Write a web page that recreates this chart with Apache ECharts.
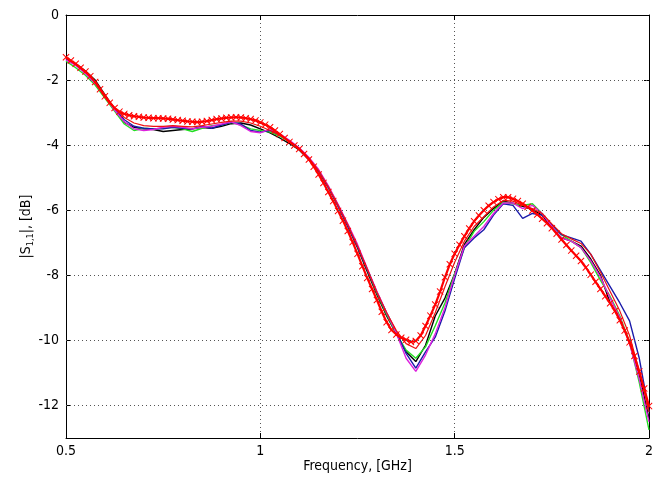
<!DOCTYPE html>
<html>
<head>
<meta charset="utf-8">
<script src="https://cdn.jsdelivr.net/npm/echarts@6/dist/echarts.min.js"></script>
<style>html,body{margin:0;padding:0;background:#fff;overflow:hidden;}#c{width:665px;height:479px;}</style>
</head>
<body>
<div id="c"></div>
<script>
// Sampling grids (GHz)
const coarseStart = 0.5, coarseStep = 0.025;
const fineStart = 0.5, fineStep = 0.0125;

// |S11| [dB] measured curves, sampled every 0.025 GHz from 0.5 to 2.0
const blackS11 = [-1.35,-1.50,-1.72,-2.00,-2.45,-2.90,-3.30,-3.45,-3.50,-3.52,-3.58,-3.55,-3.52,-3.50,-3.46,-3.48,-3.42,-3.34,-3.32,-3.38,
  -3.50,-3.62,-3.78,-3.95,-4.15,-4.45,-4.80,-5.30,-5.85,-6.48,-7.15,-7.88,-8.60,-9.25,-9.80,-10.35,-10.65,-10.15,-9.25,-8.70,
  -7.95,-7.05,-6.60,-6.22,-5.95,-5.72,-5.78,-5.88,-5.98,-6.15,-6.55,-6.85,-6.95,-7.10,-7.50,-8.00,-8.85,-9.35,-10.05,-11.05,-12.40];
const greenS11 = [-1.42,-1.62,-1.85,-2.15,-2.55,-2.95,-3.35,-3.55,-3.48,-3.50,-3.48,-3.45,-3.50,-3.58,-3.48,-3.40,-3.38,-3.30,-3.38,-3.50,
  -3.55,-3.60,-3.72,-3.90,-4.12,-4.40,-4.78,-5.28,-5.85,-6.45,-7.10,-7.82,-8.55,-9.20,-9.80,-10.30,-10.55,-10.20,-9.55,-8.85,
  -7.95,-7.15,-6.65,-6.35,-6.00,-5.75,-5.80,-5.85,-5.80,-6.10,-6.45,-6.75,-6.95,-7.15,-7.60,-8.15,-8.65,-9.25,-10.05,-11.30,-12.75];
const blueS11 = [-1.33,-1.52,-1.78,-2.08,-2.48,-2.88,-3.22,-3.42,-3.48,-3.50,-3.50,-3.45,-3.48,-3.50,-3.42,-3.48,-3.38,-3.30,-3.35,-3.55,
  -3.60,-3.55,-3.68,-3.88,-4.10,-4.40,-4.80,-5.30,-5.88,-6.50,-7.12,-7.82,-8.52,-9.15,-9.75,-10.40,-10.85,-10.35,-9.90,-9.10,
  -8.10,-7.15,-6.85,-6.60,-6.15,-5.80,-5.85,-6.25,-6.10,-6.15,-6.45,-6.75,-6.85,-6.95,-7.35,-7.85,-8.35,-8.85,-9.40,-10.55,-12.20];
const magentaS11 = [-1.38,-1.55,-1.80,-2.10,-2.50,-2.92,-3.28,-3.50,-3.55,-3.52,-3.45,-3.42,-3.45,-3.50,-3.45,-3.42,-3.35,-3.28,-3.40,-3.58,
  -3.62,-3.50,-3.65,-3.85,-4.08,-4.38,-4.75,-5.25,-5.82,-6.42,-7.05,-7.78,-8.50,-9.15,-9.78,-10.55,-10.95,-10.45,-9.80,-9.00,
  -8.00,-7.10,-6.80,-6.50,-6.10,-5.78,-5.78,-5.95,-5.85,-6.10,-6.50,-6.85,-6.95,-7.15,-7.55,-8.05,-8.70,-9.30,-10.10,-11.20,-12.50];
const redS11 = [-1.32,-1.52,-1.75,-2.05,-2.45,-2.85,-3.15,-3.32,-3.40,-3.42,-3.42,-3.40,-3.42,-3.44,-3.40,-3.35,-3.30,-3.26,-3.26,-3.32,
  -3.42,-3.55,-3.70,-3.88,-4.10,-4.40,-4.78,-5.28,-5.85,-6.45,-7.10,-7.80,-8.52,-9.15,-9.70,-10.10,-10.25,-9.85,-9.15,-8.35,
  -7.60,-6.95,-6.50,-6.20,-5.90,-5.70,-5.72,-5.85,-5.95,-6.10,-6.42,-6.72,-6.88,-7.02,-7.35,-7.90,-8.50,-9.10,-9.85,-10.95,-12.20];

// Smooth (simulated) curve with markers, sampled every 0.0125 GHz from 0.5 to 2.0
const simS11 = [-1.30,-1.40,-1.50,-1.62,-1.74,-1.88,-2.06,-2.28,-2.50,-2.70,
  -2.86,-2.97,-3.04,-3.08,-3.11,-3.13,-3.15,-3.16,-3.17,-3.17,
  -3.18,-3.19,-3.21,-3.23,-3.25,-3.27,-3.28,-3.29,-3.28,-3.26,
  -3.23,-3.20,-3.18,-3.16,-3.15,-3.14,-3.15,-3.17,-3.20,-3.24,
  -3.30,-3.37,-3.45,-3.55,-3.66,-3.78,-3.90,-4.01,-4.12,-4.27,
  -4.44,-4.66,-4.90,-5.16,-5.44,-5.72,-6.02,-6.32,-6.64,-6.98,
  -7.34,-7.72,-8.08,-8.42,-8.76,-9.12,-9.44,-9.68,-9.82,-9.92,
  -9.98,-10.05,-10.02,-9.85,-9.56,-9.24,-8.90,-8.50,-8.06,-7.66,
  -7.34,-7.06,-6.80,-6.56,-6.34,-6.16,-6.00,-5.86,-5.75,-5.66,
  -5.60,-5.60,-5.65,-5.72,-5.80,-5.90,-6.01,-6.13,-6.26,-6.40,
  -6.55,-6.72,-6.90,-7.07,-7.24,-7.40,-7.56,-7.76,-7.98,-8.20,
  -8.42,-8.64,-8.86,-9.10,-9.38,-9.70,-10.06,-10.48,-10.96,-11.48,
  -12.02];

const xTicks = [0.5, 1, 1.5, 2];
const yTicks = [0, -2, -4, -6, -8, -10, -12];

function pairs(start, step, vals) {
  return vals.map((v, i) => [+(start + i * step).toFixed(4), v]);
}

const chart = echarts.init(document.getElementById('c'), null, {renderer: 'canvas'});
const FONT = '"Liberation Sans Narrow", "Arial Narrow", "DejaVu Sans Condensed", "Liberation Sans", Arial, sans-serif';
const FS = 14;
const crossPath = 'path://M0,1 L1,0 L5,4 L9,0 L10,1 L6,5 L10,9 L9,10 L5,6 L1,10 L0,9 L4,5 Z';

function lineSeries(name, color, vals, width) {
  return {
    name, type: 'line', data: pairs(coarseStart, coarseStep, vals),
    showSymbol: false, symbol: 'none', smooth: false,
    lineStyle: {color, width: width || 1.4}, itemStyle: {color},
    animation: false, z: 2
  };
}

const boxAxisCommon = {
  axisLine: {show: true, lineStyle: {color: '#000', width: 1}},
  axisLabel: {show: false}, splitLine: {show: false}
};

chart.setOption({
  animation: false,
  backgroundColor: '#fff',
  grid: {left: 66, right: 16, top: 15, bottom: 41, show: false},
  xAxis: [{
    type: 'value', min: 0.5, max: 2, interval: 0.5,
    name: 'Frequency, [GHz]', nameLocation: 'middle', nameGap: 21, nameMoveOverlap: false,
    nameTextStyle: {color: '#000', fontSize: FS, fontFamily: FONT},
    axisLine: {show: true, onZero: false, lineStyle: {color: '#000', width: 1}},
    axisTick: {show: true, inside: true, length: 5, lineStyle: {color: '#000'}},
    axisLabel: {color: '#000', fontSize: FS, fontFamily: FONT, margin: 6, formatter: v => String(v)},
    splitLine: {show: true, lineStyle: {color: '#555', type: [1, 3], width: 1}}
  }, Object.assign({
    type: 'value', min: 0.5, max: 2, interval: 0.5, position: 'top',
    axisTick: {show: true, inside: true, length: 5, lineStyle: {color: '#000'}}
  }, boxAxisCommon)],
  yAxis: [{
    type: 'value', min: -13, max: 0, interval: 1,
    name: '{n||S}{s|1,1}{n||, [dB]}', nameLocation: 'middle', nameGap: 31, nameRotate: 90, nameMoveOverlap: false,
    nameTextStyle: {color: '#000', fontSize: FS, fontFamily: FONT,
      rich: {n: {fontSize: FS, fontFamily: FONT, color: '#000'}, s: {fontSize: 9, fontFamily: FONT, color: '#000', verticalAlign: 'bottom', padding: [8, 0, 0, 0]}}},
    axisLine: {show: true, onZero: false, lineStyle: {color: '#000', width: 1}},
    axisTick: {show: true, inside: true, length: 5, customValues: yTicks, lineStyle: {color: '#000'}},
    axisLabel: {color: '#000', fontSize: FS, fontFamily: FONT, margin: 7, customValues: yTicks, formatter: v => String(v)},
    splitLine: {show: false}
  }, Object.assign({
    type: 'value', min: -13, max: 0, interval: 1, position: 'right',
    axisTick: {show: true, inside: true, length: 5, customValues: yTicks, lineStyle: {color: '#000'}}
  }, boxAxisCommon)],
  series: [
    lineSeries('black', '#000000', blackS11),
    lineSeries('green', '#22dd22', greenS11),
    lineSeries('blue', '#1a1aaa', blueS11),
    lineSeries('magenta', '#dd22dd', magentaS11),
    Object.assign(lineSeries('red', '#ee1111', redS11, 1.2), {
      markLine: {
        silent: true, symbol: 'none', label: {show: false},
        lineStyle: {color: '#555', type: [1, 3], width: 1},
        data: yTicks.filter(v => v > -13 && v < 0).map(v => ({yAxis: v}))
      }
    }),
    {
      name: 'sim', type: 'line', data: pairs(fineStart, fineStep, simS11),
      symbol: crossPath, symbolSize: 7, showSymbol: true, showAllSymbol: true,
      lineStyle: {color: '#ff0000', width: 2.2}, itemStyle: {color: '#ff0000'},
      animation: false, z: 3
    }
  ]
});
</script>
</body>
</html>
